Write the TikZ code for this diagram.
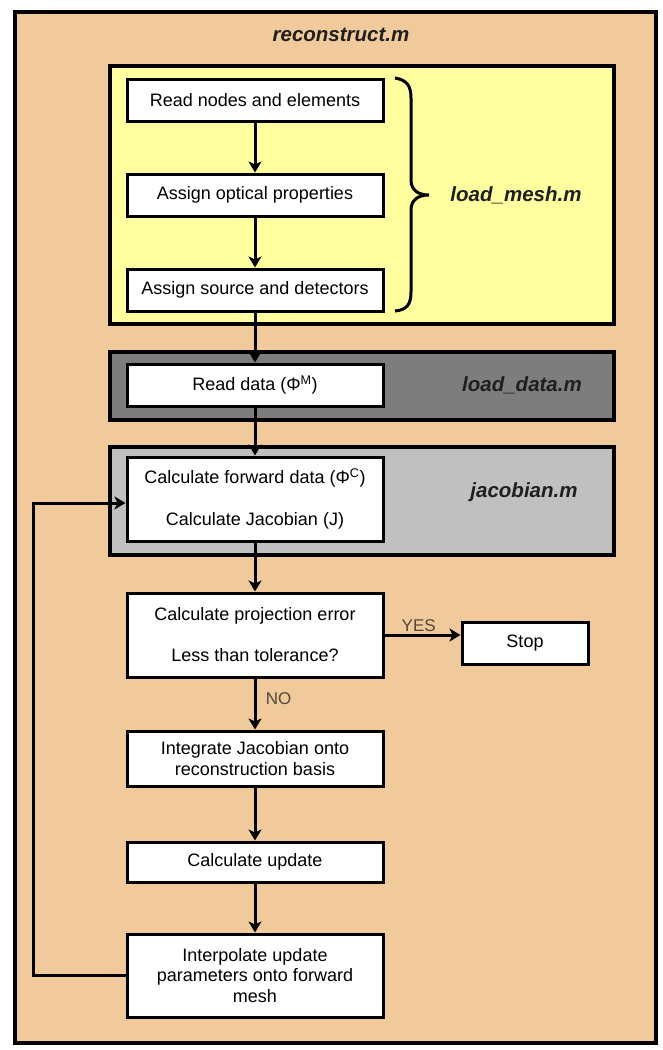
\documentclass[tikz,border=0pt]{standalone}
\usepackage{fontspec}
\setmainfont{Liberation Sans}
\usetikzlibrary{arrows.meta,calc}
\definecolor{peach}{RGB}{240,202,154}
\definecolor{pale}{RGB}{255,255,160}
\definecolor{darkbox}{RGB}{125,125,125}
\definecolor{lightbox}{RGB}{192,192,192}
\definecolor{lbl}{RGB}{85,70,55}
\begin{document}
\begin{tikzpicture}[x=1pt,y=-1pt,
  frame/.style={draw=black,line width=3.5pt},
  proc/.style={draw=black,fill=white,line width=3pt,minimum width=256pt,inner sep=0pt,align=center,font=\fontsize{18}{20.5}\selectfont},
  modname/.style={font=\fontsize{20.5}{24}\selectfont\bfseries\itshape,text=black!88},
  arr/.style={line width=3pt,-{Stealth[length=11pt,width=13pt,inset=3pt]}},
  ans/.style={text=lbl,font=\fontsize{17}{20}\selectfont}
]
\useasboundingbox[fill=white] (0,0) rectangle (662,1050);
% outer frame
\draw[frame,fill=peach] (15,12) rectangle (656,1043);
\node[modname] (title) at (341,35) {reconstruct.m};
% module boxes
\draw[frame,fill=pale] (110,66) rectangle (614,324);
\draw[frame,fill=darkbox] (110,352) rectangle (614,420);
\draw[frame,fill=lightbox] (110,447) rectangle (614,555);
% process nodes
\node[proc,minimum height=42pt] (read) at (255,100) {Read nodes and elements};
\node[proc,minimum height=42pt] (optic) at (255,195) {Assign optical properties};
\node[proc,minimum height=42pt] (src) at (255,290) {Assign source and detectors};
\node[proc,minimum height=42pt] (rdata) at (255,385) {Read data (Φ\textsuperscript{M})};
\node[proc,minimum height=84pt,font=\fontsize{18}{42}\selectfont] (fwd) at (255,499) {Calculate forward data (Φ\textsuperscript{C})\\Calculate Jacobian (J)};
\node[proc,minimum height=84pt,font=\fontsize{18}{41}\selectfont] (proj) at (255,635) {Calculate projection error\\Less than tolerance?};
\node[proc,minimum width=126pt,minimum height=42pt] (stop) at (525,643) {Stop};
\node[proc,minimum height=55pt] (integ) at (255,758.5) {Integrate Jacobian onto\\reconstruction basis};
\node[proc,minimum height=40pt] (upd) at (255,862) {Calculate update};
\node[proc,minimum height=83pt] (interp) at (255,975.5) {Interpolate update\\parameters onto forward\\mesh};
% module labels
\draw[line width=3pt] (395,78) .. controls (407,80) and (411,86) .. (411,98) -- (411,180) .. controls (411,190) and (418,195) .. (429,195) .. controls (418,195) and (411,200) .. (411,210) -- (411,292) .. controls (411,304) and (407,310) .. (395,311);
\node[modname] (lmesh) at (516,195) {load\_mesh.m};
\node[modname] (ldata) at (522,385) {load\_data.m};
\node[modname] (ljac) at (524,492) {jacobian.m};
% connectors
\draw[arr] (read) -- (optic);
\draw[arr] (optic) -- (src);
\draw[arr] (src) -- (rdata);
\draw[arr] (rdata) -- (fwd);
\draw[arr] (fwd) -- (proj);
\draw[arr] (proj) -- node[ans,pos=0.4,anchor=west,xshift=6pt] (no) {NO} (integ);
\draw[arr] (proj.east) -- node[ans,above,pos=0.45,yshift=-1pt] (yes) {YES} (proj.east -| stop.west);
\draw[arr] (integ) -- (upd);
\draw[arr] (upd) -- (interp);
\coordinate (lc) at (33,503);
\draw[arr] (interp.west) -| (lc) -- (lc -| fwd.west);
\end{tikzpicture}
\end{document}
